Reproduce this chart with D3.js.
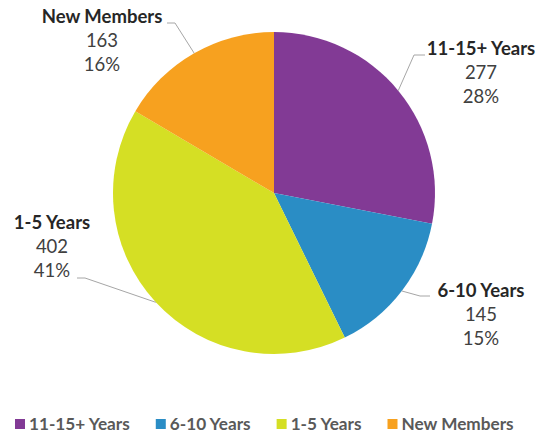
<!DOCTYPE html>
<html>
<head>
<meta charset="utf-8">
<script src="https://cdn.jsdelivr.net/npm/d3@7"></script>
<style>
  body { margin: 0; background: #fff; }
  svg { display: block; font-family: Lato, "Open Sans", sans-serif; }
</style>
</head>
<body>
<script>
// chart data
var categories = ["11-15+ Years", "6-10 Years", "1-5 Years", "New Members"];
var members = [277, 145, 402, 163];
var percents = ["28%", "15%", "41%", "16%"];
var colours = ["#823A95", "#2A8DC5", "#D5DF24", "#F7A11F"];

var width = 549, height = 434;
var cx = 274, cy = 193, radius = 161;

// label placement: text centre, first baseline, and where the leader line bends
var labelPos = [
  {x: 481, y: 55, lx: 425, ly: 55, bx: 414},
  {x: 481, y: 297, lx: 430, ly: 296, bx: 420},
  {x: 52, y: 229, lx: 77, ly: 278, bx: 85},
  {x: 102, y: 23, lx: 167, ly: 23, bx: 175}
];

var svg = d3.select("body").append("svg")
    .attr("width", width)
    .attr("height", height);

var data = categories.map(function(c, i) {
  return {name: c, value: members[i], pct: percents[i], colour: colours[i], pos: labelPos[i]};
});

var pie = d3.pie().sort(null).value(function(d) { return d.value; });
var arc = d3.arc().innerRadius(0).outerRadius(radius);
var arcs = pie(data);

var g = svg.append("g").attr("transform", "translate(" + cx + "," + cy + ")");

g.selectAll("path.slice")
  .data(arcs)
  .enter().append("path")
    .attr("class", "slice")
    .attr("d", arc)
    .attr("fill", function(d) { return d.data.colour; });

// leader lines, ending on the rim at each slice's mid angle
svg.selectAll("polyline.leader")
  .data(arcs)
  .enter().append("polyline")
    .attr("class", "leader")
    .attr("fill", "none")
    .attr("stroke", "#A6A6A6")
    .attr("stroke-width", 1)
    .attr("points", function(d) {
      var a = (d.startAngle + d.endAngle) / 2;
      var ex = cx + radius * Math.sin(a), ey = cy - radius * Math.cos(a);
      var p = d.data.pos;
      return [[p.lx, p.ly], [p.bx, p.ly], [ex, ey]].join(" ");
    });

var labels = svg.selectAll("text.label")
  .data(data)
  .enter().append("text")
    .attr("class", "label")
    .attr("text-anchor", "middle")
    .attr("font-size", 18.5);

labels.append("tspan")
    .attr("x", function(d) { return d.pos.x; })
    .attr("y", function(d) { return d.pos.y; })
    .attr("font-weight", "bold")
    .attr("fill", "#262626")
    .text(function(d) { return d.name; });
labels.append("tspan")
    .attr("x", function(d) { return d.pos.x; })
    .attr("y", function(d) { return d.pos.y + 24; })
    .attr("fill", "#404040")
    .text(function(d) { return d.value; });
labels.append("tspan")
    .attr("x", function(d) { return d.pos.x; })
    .attr("y", function(d) { return d.pos.y + 48; })
    .attr("fill", "#404040")
    .text(function(d) { return d.pct; });

// legend
var legend = svg.append("g").attr("class", "legend");
var lx = 15;
data.forEach(function(d) {
  legend.append("rect")
    .attr("x", lx).attr("y", 419)
    .attr("width", 10).attr("height", 10)
    .attr("fill", d.colour);
  var t = legend.append("text")
    .attr("x", lx + 14).attr("y", 430)
    .attr("font-size", 17.2)
    .attr("font-weight", "bold")
    .attr("fill", "#595959")
    .text(d.name);
  lx += 14 + t.node().getComputedTextLength() + 26;
});
</script>
</body>
</html>
